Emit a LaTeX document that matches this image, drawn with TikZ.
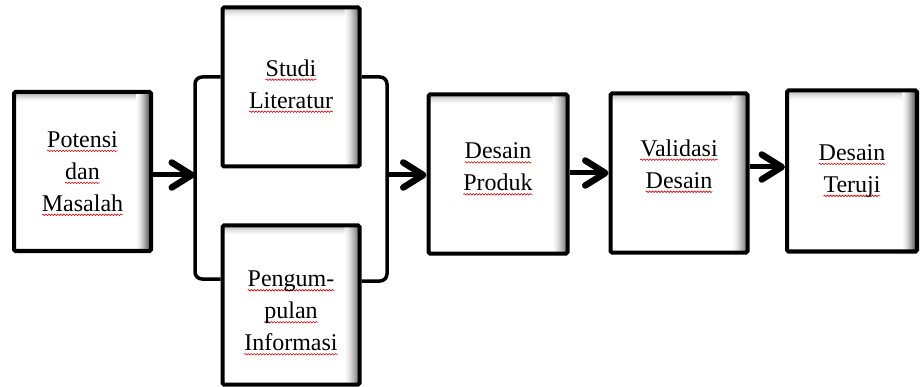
\documentclass[tikz,border=0pt]{standalone}
\usepackage{fontspec}
\setmainfont{Liberation Serif}
\usetikzlibrary{arrows.meta,decorations.pathmorphing}
\tikzset{
  wave/.style={draw=red!85!black, fill=none, line width=0.6pt, sharp corners,
    decorate, decoration={snake, amplitude=0.75pt, segment length=3pt}},
  stagebox/.style={draw, line width=4pt, rounded corners=1.5pt, fill=white,
    minimum width=137pt, minimum height=159pt, inner sep=0pt,
    path picture={
      % soft inner shadow along the top edge
      \foreach \k [evaluate=\k as \c using 38*(\k/10)^1.6] in {1,...,10}
        \fill[black!\c]
          ([yshift=-(11-\k)*1pt]path picture bounding box.north west) rectangle
          ([yshift=-(10-\k)*1pt]path picture bounding box.north east);
      % deeper inner shadow along the right edge
      \foreach \k [evaluate=\k as \c using 72*(\k/15)^1.6] in {1,...,15}
        \fill[black!\c]
          ([xshift=-(16-\k)*1pt]path picture bounding box.north east) rectangle
          ([xshift=-(15-\k)*1pt]path picture bounding box.south east);
    }},
  stagetext/.style={inner sep=0pt, align=center, font=\fontsize{24}{32}\selectfont},
  flow/.style={line width=5pt,
    -{Straight Barb[length=20pt,width=25pt,line width=6.5pt,round]}},
  brace/.style={line width=3.5pt, rounded corners=7pt}
}
% word with a red wavy underline
\newsavebox\swbox
\newcommand\sw[1]{\sbox\swbox{#1}\leavevmode\rlap{\tikz[overlay,baseline=0pt]\path[wave] (0pt,-3.5pt) -- (\the\wd\swbox,-3.5pt);}\usebox\swbox}
\begin{document}
\begin{tikzpicture}[x=1pt,y=-1pt]
\useasboundingbox (0,0) rectangle (920,387);

% stage frames
\node[stagebox] (pm) at (82.5,171.5) {};
\node[stagebox] (sl) at (291,87) {};
\node[stagebox] (pi) at (291,305) {};
\node[stagebox, minimum width=139pt] (dp) at (498,174) {};
\node[stagebox] (vd) at (679,173) {};
\node[stagebox, minimum width=130pt, minimum height=161pt] (dt) at (852,171) {};

% stage captions
\node[stagetext] (pm-t) at (pm.center) {\sw{Potensi}\\\sw{dan}\\\sw{Masalah}};
\node[stagetext] (sl-t) at ([yshift=3pt]sl.center) {\sw{Studi}\\\sw{Literatur}};
\node[stagetext] (pi-t) at ([yshift=-6pt]pi.center) {\sw{Pengum-}\\\sw{pulan}\\\sw{Informasi}};
\node[stagetext] (dp-t) at ([yshift=7pt]dp.center) {\sw{Desain}\\\sw{Produk}};
\node[stagetext] (vd-t) at ([yshift=9pt]vd.center) {\sw{Validasi}\\\sw{Desain}};
\node[stagetext] (dt-t) at (dt.center) {\sw{Desain}\\\sw{Teruji}};

% brackets joining the two parallel stages
\coordinate (jl) at (195,175);
\coordinate (jr) at (387,175);
\draw[brace] (sl.west |- 0,77) -- (195,77) -- (195,279) -- (pi.west |- 0,279);
\draw[brace] (sl.east |- 0,77) -- (387,77) -- (387,281) -- (pi.east |- 0,281);

% flow arrows
\draw[flow] (pm.east |- jl) -- (jl);
\draw[flow] (jr) -- (dp.west |- jr);
\draw[flow] (dp.east |- 0,173) -- (vd.west |- 0,173);
\draw[flow] (vd.east |- 0,167) -- (dt.west |- 0,167);
\end{tikzpicture}
\end{document}
